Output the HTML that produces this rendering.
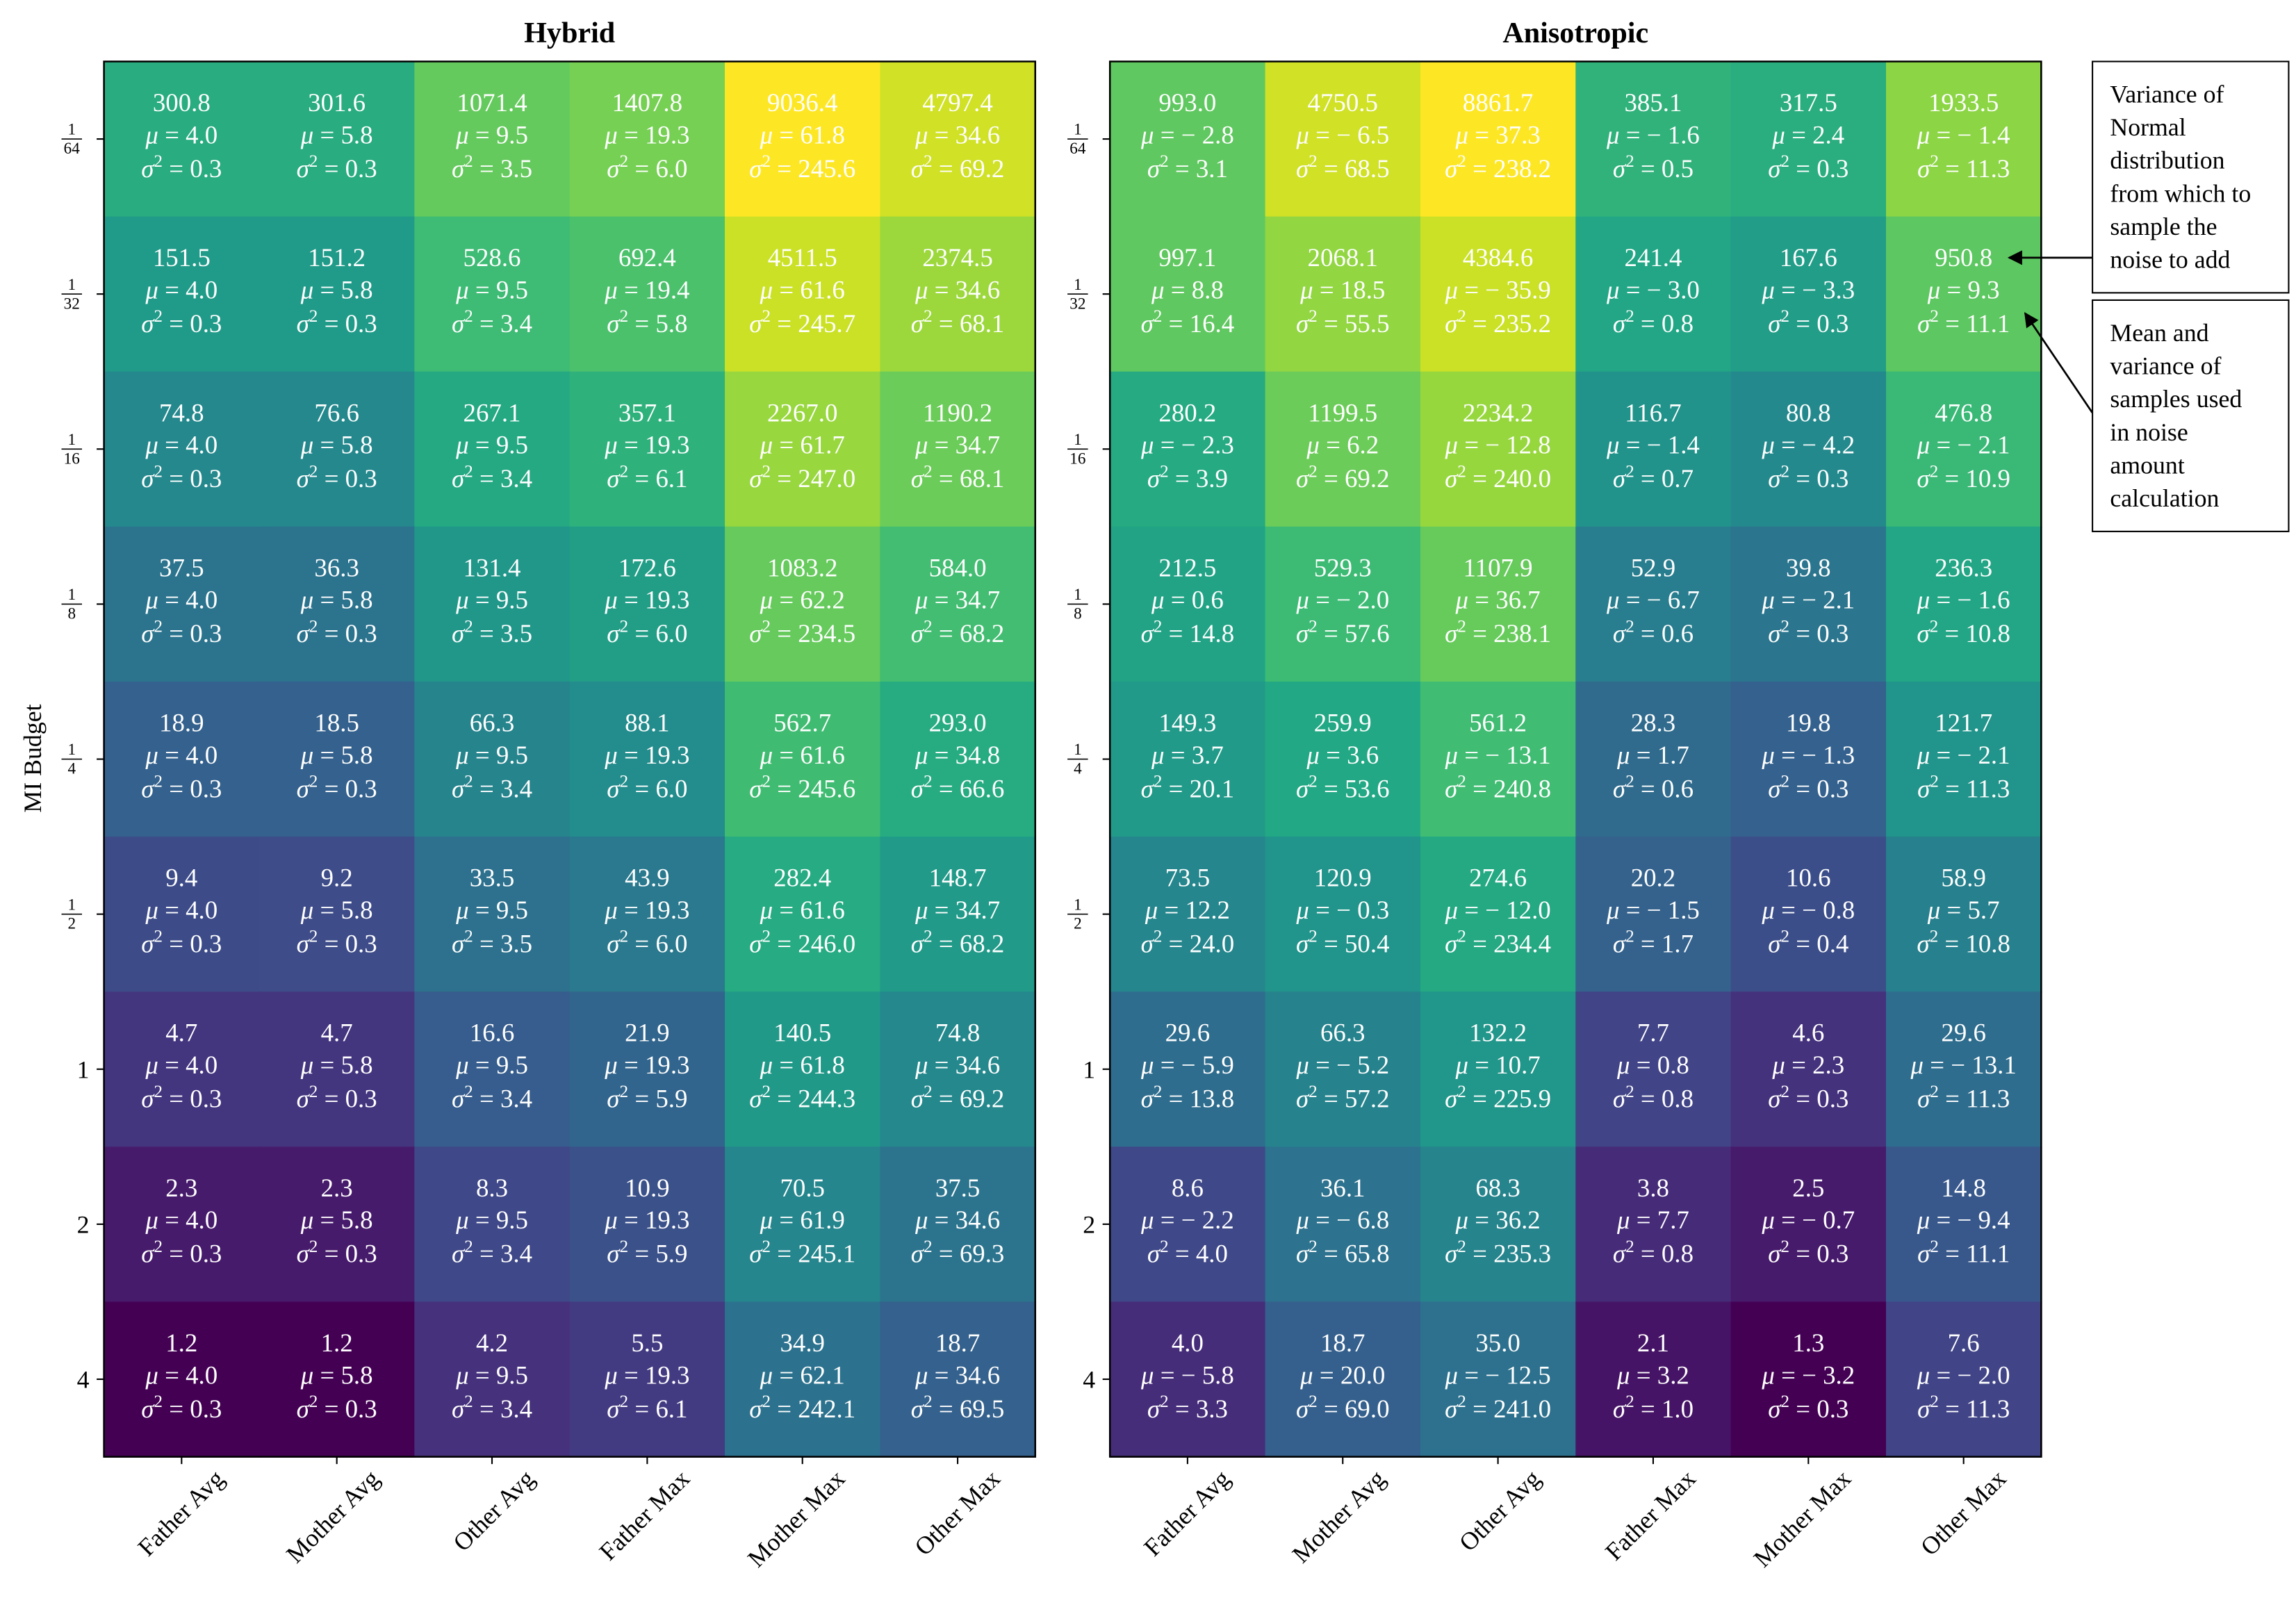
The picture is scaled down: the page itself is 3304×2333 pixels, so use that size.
<!DOCTYPE html>
<html><head><meta charset="utf-8">
<style>html,body{margin:0;padding:0;background:#fff}svg{display:block}text{font-family:"Liberation Serif",serif}</style>
</head><body>
<svg id="chart" width="3304" height="2333" viewBox="0 0 1568 1107.2" xmlns="http://www.w3.org/2000/svg">
<g id="root"></g>
</svg>
<script>
const categories = ["Father Avg","Mother Avg","Other Avg","Father Max","Mother Max","Other Max"];
const budgets = [["1","64"],["1","32"],["1","16"],["1","8"],["1","4"],["1","2"],["1"],["2"],["4"]];
const hybridValues = [
[300.8,301.6,1071.4,1407.8,9036.4,4797.4],[151.5,151.2,528.6,692.4,4511.5,2374.5],[74.8,76.6,267.1,357.1,2267.0,1190.2],
[37.5,36.3,131.4,172.6,1083.2,584.0],[18.9,18.5,66.3,88.1,562.7,293.0],[9.4,9.2,33.5,43.9,282.4,148.7],
[4.7,4.7,16.6,21.9,140.5,74.8],[2.3,2.3,8.3,10.9,70.5,37.5],[1.2,1.2,4.2,5.5,34.9,18.7]];
const hybridMu = [
[4.0,5.8,9.5,19.3,61.8,34.6],[4.0,5.8,9.5,19.4,61.6,34.6],[4.0,5.8,9.5,19.3,61.7,34.7],
[4.0,5.8,9.5,19.3,62.2,34.7],[4.0,5.8,9.5,19.3,61.6,34.8],[4.0,5.8,9.5,19.3,61.6,34.7],
[4.0,5.8,9.5,19.3,61.8,34.6],[4.0,5.8,9.5,19.3,61.9,34.6],[4.0,5.8,9.5,19.3,62.1,34.6]];
const hybridSigma = [
[0.3,0.3,3.5,6.0,245.6,69.2],[0.3,0.3,3.4,5.8,245.7,68.1],[0.3,0.3,3.4,6.1,247.0,68.1],
[0.3,0.3,3.5,6.0,234.5,68.2],[0.3,0.3,3.4,6.0,245.6,66.6],[0.3,0.3,3.5,6.0,246.0,68.2],
[0.3,0.3,3.4,5.9,244.3,69.2],[0.3,0.3,3.4,5.9,245.1,69.3],[0.3,0.3,3.4,6.1,242.1,69.5]];
const anisoValues = [
[993.0,4750.5,8861.7,385.1,317.5,1933.5],[997.1,2068.1,4384.6,241.4,167.6,950.8],[280.2,1199.5,2234.2,116.7,80.8,476.8],
[212.5,529.3,1107.9,52.9,39.8,236.3],[149.3,259.9,561.2,28.3,19.8,121.7],[73.5,120.9,274.6,20.2,10.6,58.9],
[29.6,66.3,132.2,7.7,4.6,29.6],[8.6,36.1,68.3,3.8,2.5,14.8],[4.0,18.7,35.0,2.1,1.3,7.6]];
const anisoMu = [
[-2.8,-6.5,37.3,-1.6,2.4,-1.4],[8.8,18.5,-35.9,-3.0,-3.3,9.3],[-2.3,6.2,-12.8,-1.4,-4.2,-2.1],
[0.6,-2.0,36.7,-6.7,-2.1,-1.6],[3.7,3.6,-13.1,1.7,-1.3,-2.1],[12.2,-0.3,-12.0,-1.5,-0.8,5.7],
[-5.9,-5.2,10.7,0.8,2.3,-13.1],[-2.2,-6.8,36.2,7.7,-0.7,-9.4],[-5.8,20.0,-12.5,3.2,-3.2,-2.0]];
const anisoSigma = [
[3.1,68.5,238.2,0.5,0.3,11.3],[16.4,55.5,235.2,0.8,0.3,11.1],[3.9,69.2,240.0,0.7,0.3,10.9],
[14.8,57.6,238.1,0.6,0.3,10.8],[20.1,53.6,240.8,0.6,0.3,11.3],[24.0,50.4,234.4,1.7,0.4,10.8],
[13.8,57.2,225.9,0.8,0.3,11.3],[4.0,65.8,235.3,0.8,0.3,11.1],[3.3,69.0,241.0,1.0,0.3,11.3]];

const NS="http://www.w3.org/2000/svg";
const root=document.getElementById('root');
function el(tag,attrs,parent){const e=document.createElementNS(NS,tag);for(const k in attrs)e.setAttribute(k,attrs[k]);(parent||root).appendChild(e);return e;}
const vir=[[68,1,84],[72,36,117],[65,68,135],[53,95,141],[42,120,142],[33,145,140],[34,168,132],[68,191,112],[122,209,81],[189,223,38],[253,231,37]];
function viridis(t){t=Math.max(0,Math.min(1,t));const p=t*10,i=Math.min(9,Math.floor(p)),f=p-i;const a=vir[i],b=vir[i+1];return `rgb(${a.map((v,k)=>Math.round(v+(b[k]-v)*f)).join(',')})`;}
function fmt(v){return v<0?'\u2212 '+Math.abs(v).toFixed(1):v.toFixed(1);}

function panel(x0,title,vals,mus,sigs,name){
  const y0=42,W=636,H=953,nc=6,nr=9,cw=W/nc,rh=H/nr;
  const flat=vals.flat(),lmin=Math.log10(Math.min(...flat)),lmax=Math.log10(Math.max(...flat));
  const g=el('g',{});
  
  
  const xs=c=>x0+cw*(c+0.5), ys=r=>y0+rh*(r+0.5);
  for(let r=0;r<nr;r++)for(let c=0;c<nc;c++){
    const v=vals[r][c];
    const cell=el('rect',{x:x0+cw*c,y:y0+rh*r,width:cw+0.6,height:rh+0.6,fill:viridis((Math.log10(v)-lmin)/(lmax-lmin))},g);
    
    
    const t=el('text',{x:xs(c),y:ys(r)-19,'text-anchor':'middle','font-size':17.5,fill:'#fff'},g);
    
    
    t.textContent=v.toFixed(1);
    const t2=el('text',{x:xs(c),y:ys(r)+3,'text-anchor':'middle','font-size':17.5,fill:'#fff'},g);
    
    
    t2.innerHTML='<tspan font-style="italic">μ</tspan> = '+fmt(mus[r][c]);
    const t3=el('text',{x:xs(c),y:ys(r)+26,'text-anchor':'middle','font-size':17.5,fill:'#fff'},g);
    
    
    t3.innerHTML='<tspan font-style="italic">σ</tspan><tspan dy="-7" font-size="12">2</tspan><tspan dy="7"> = '+fmt(sigs[r][c])+'</tspan>';
  }
  const fr=el('rect',{x:x0,y:y0,width:W,height:H,fill:'none',stroke:'#000','stroke-width':1.2},g);
  
  
  const tt=el('text',{x:x0+W/2,y:29,'text-anchor':'middle','font-size':20,'font-weight':'bold'},g);
  
  
  tt.textContent=title;
  categories.forEach((c,i)=>{
    el('line',{x1:xs(i),x2:xs(i),y1:y0+H,y2:y0+H+5,stroke:'#000'},g);
    const lx=xs(i)+30,ly=y0+H+16;
    const t=el('text',{x:lx,y:ly,'text-anchor':'end','font-size':17,transform:`rotate(-45 ${lx} ${ly})`},g);
    
    
    t.textContent=c;
  });
  budgets.forEach((b,i)=>{
    const y=ys(i);
    el('line',{x1:x0-5,x2:x0,y1:y,y2:y,stroke:'#000'},g);
    if(b.length===2){
      const t=el('text',{x:x0-22,y:y-3,'text-anchor':'middle','font-size':11},g);
      
      
      t.textContent=b[0];
      el('line',{x1:x0-29,x2:x0-15,y1:y,y2:y,stroke:'#000','stroke-width':0.8},g);
      const t2=el('text',{x:x0-22,y:y+10,'text-anchor':'middle','font-size':11},g);
      
      
      t2.textContent=b[1];
    } else {
      const t=el('text',{x:x0-10,y:y+6,'text-anchor':'end','font-size':17},g);
      
      
      t.textContent=b[0];
    }
  });
}
panel(71,'Hybrid',hybridValues,hybridMu,hybridSigma,'hybrid');
panel(758,'Anisotropic',anisoValues,anisoMu,anisoSigma,'anisotropic');

const yt=el('text',{x:28,y:518,'text-anchor':'middle','font-size':17,transform:'rotate(-90 28 518)'});


yt.textContent='MI Budget';

function box(y,h,lines,name){
  const g=el('g',{});
  
  
  el('rect',{x:1429,y:y,width:134,height:h,fill:'#fff',stroke:'#000','stroke-width':1},g);
  lines.forEach((l,i)=>{const t=el('text',{x:1441,y:y+28+i*22.6,'font-size':17,'font-family':'Liberation Serif, serif'},g);t.textContent=l;});
}
box(42,158,['Variance of','Normal','distribution','from which to','sample the','noise to add'],'annotation-variance');
box(205,158,['Mean and','variance of','samples used','in noise','amount','calculation'],'annotation-mean-variance');
const defs=el('defs',{});
const m=el('marker',{id:'ah',markerWidth:10,markerHeight:10,refX:9,refY:5,orient:'auto',markerUnits:'userSpaceOnUse'},defs);
el('path',{d:'M0,0 L10,5 L0,10 z',fill:'#000'},m);
const a1=el('line',{x1:1429,y1:176,x2:1372,y2:176,stroke:'#000','stroke-width':1.3,'marker-end':'url(#ah)'});


const a2=el('line',{x1:1429,y1:282,x2:1383,y2:214,stroke:'#000','stroke-width':1.3,'marker-end':'url(#ah)'});


</script>
</body></html>
